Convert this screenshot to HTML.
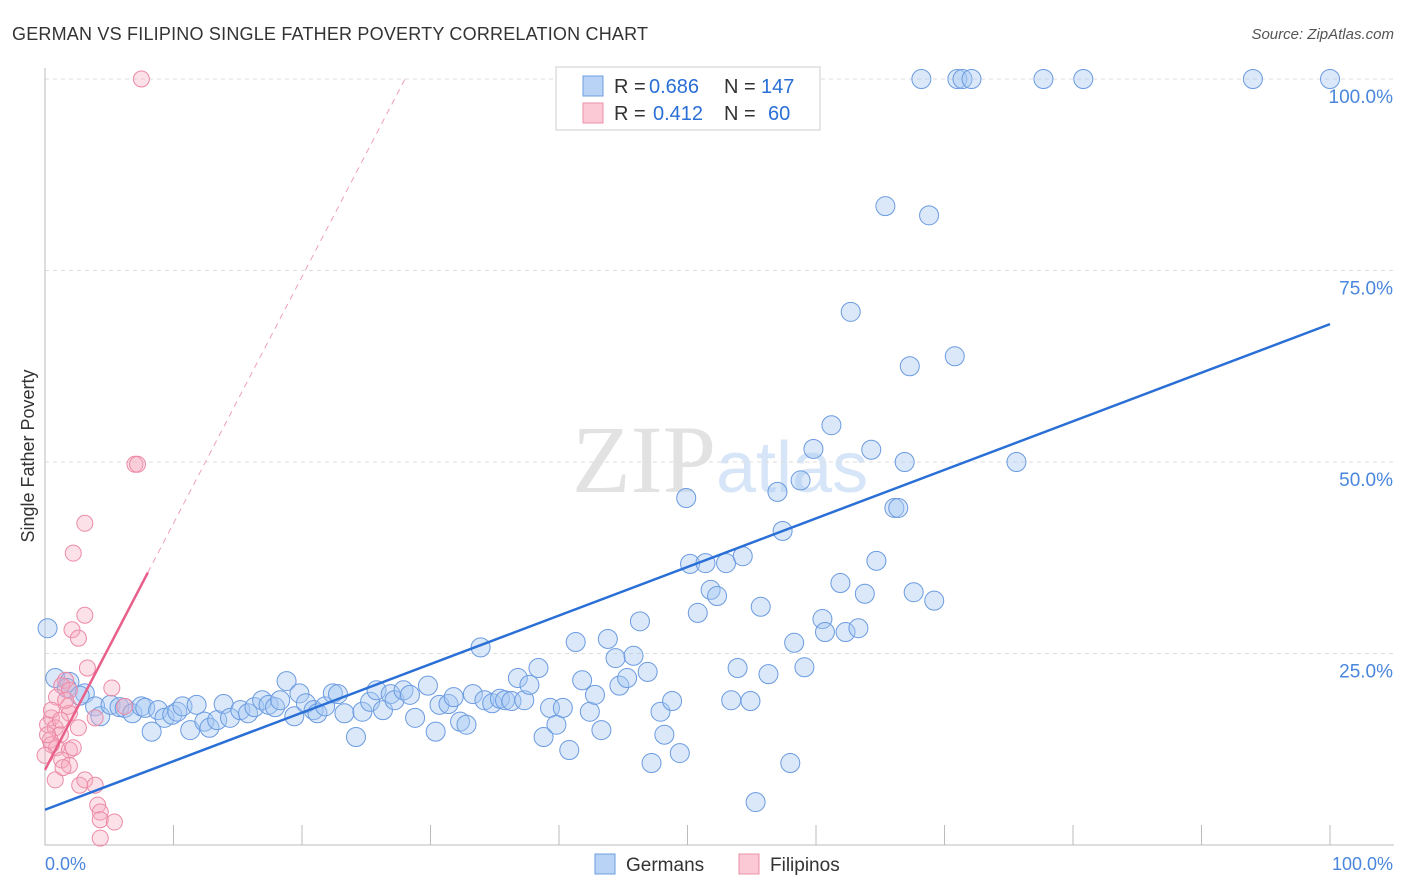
<!DOCTYPE html>
<html><head><meta charset="utf-8"><style>
body{margin:0;background:#fff;font-family:"Liberation Sans",sans-serif}
svg{display:block}
</style></head><body>
<svg id="c" width="1406" height="892">
<text x="12" y="40" font-size="18" fill="#333" textLength="636">GERMAN VS FILIPINO SINGLE FATHER POVERTY CORRELATION CHART</text>
<text x="1394" y="39" font-size="15" fill="#555" text-anchor="end" font-style="italic">Source: ZipAtlas.com</text>
<text x="34" y="456" font-size="18" fill="#333" transform="rotate(-90 34 456)" text-anchor="middle">Single Father Poverty</text>
<text x="716" y="492" font-size="96" fill="#e2e2e2" text-anchor="end" font-family="Liberation Serif">ZIP</text>
<text x="716" y="492" font-size="72" fill="#d6e5f7">atlas</text>
<g id="grid"></g><g id="pts"></g><g id="lines"></g>
<g>
<rect x="556" y="67" width="264" height="63" fill="#fff" stroke="#ccc"/>
<rect x="583" y="76" width="20" height="20" fill="#b8d3f5" stroke="#6e9fe0"/>
<rect x="583" y="103" width="20" height="20" fill="#fbc8d6" stroke="#ec90aa"/>
<text x="614" y="93" font-size="20" fill="#333">R =</text>
<text x="649" y="93" font-size="20" fill="#2a6fd6">0.686</text>
<text x="724" y="93" font-size="20" fill="#333">N =</text>
<text x="761" y="93" font-size="20" fill="#2a6fd6">147</text>
<text x="614" y="120" font-size="20" fill="#333">R =</text>
<text x="653" y="120" font-size="20" fill="#2a6fd6">0.412</text>
<text x="724" y="120" font-size="20" fill="#333">N =</text>
<text x="768" y="120" font-size="20" fill="#2a6fd6">60</text>
</g>
<g>
<rect x="595" y="854" width="20" height="20" fill="#b8d3f5" stroke="#6e9fe0"/>
<text x="626" y="871" font-size="19" fill="#333">Germans</text>
<rect x="739" y="854" width="20" height="20" fill="#fbc8d6" stroke="#ec90aa"/>
<text x="770" y="871" font-size="19" fill="#333">Filipinos</text>
</g>
</svg>
<script>
const germansX=[0.2,0.8,1.9,1.7,3.1,2.7,3.9,4.3,5.1,5.8,6.2,6.8,7.5,7.8,8.3,8.8,9.3,9.9,10.3,10.7,11.3,11.8,12.4,12.8,13.4,13.9,14.4,15.2,15.8,16.3,16.9,17.4,17.9,18.3,18.8,19.4,19.8,20.3,20.9,21.2,21.8,22.4,22.8,23.3,24.2,24.7,25.3,25.8,26.3,26.9,27.2,27.9,28.4,28.8,29.8,30.4,30.7,31.4,31.8,32.3,32.8,33.3,33.9,34.2,34.8,35.4,35.8,36.3,36.8,37.3,37.7,38.4,38.8,39.3,39.8,40.3,40.8,41.3,41.8,42.4,42.8,43.3,43.8,44.4,44.7,45.3,45.8,46.3,46.9,47.2,47.9,48.2,48.8,49.4,49.9,50.2,50.8,51.4,51.8,52.3,53.0,53.4,53.9,54.3,54.9,55.3,55.7,56.3,57.0,57.4,58.0,58.3,58.8,59.1,59.8,60.5,60.7,61.2,61.9,62.3,62.7,63.3,63.8,64.3,64.7,65.4,66.1,66.4,66.9,67.3,67.6,68.2,68.8,69.2,70.8,71.0,71.4,72.1,75.6,77.7,80.8,94.0,100];
const germansY=[28.3,21.8,21.3,20.5,19.8,19.5,18.1,16.8,18.3,18.0,17.9,17.2,18.1,17.9,14.8,17.6,16.6,17.0,17.4,18.1,15.0,18.3,16.1,15.3,16.3,18.4,16.6,17.6,17.2,18.0,18.9,18.3,18.0,18.9,21.4,16.8,19.8,18.5,17.6,17.2,18.1,19.8,19.7,17.2,14.1,17.4,18.7,20.2,17.6,19.7,18.9,20.2,19.6,16.6,20.8,14.8,18.3,18.4,19.3,16.1,15.7,19.7,25.8,18.9,18.5,19.1,18.9,18.8,21.8,18.9,20.9,23.1,14.1,17.9,15.7,17.9,12.4,26.5,21.5,17.4,19.6,15.0,26.9,24.4,20.8,21.8,24.7,29.2,22.6,10.7,17.4,14.4,18.8,12.0,45.3,36.7,30.3,36.8,33.3,32.5,36.8,18.9,23.1,37.7,18.8,5.6,31.1,22.3,46.1,41.0,10.7,26.4,47.6,23.2,51.7,29.5,27.8,54.8,34.2,27.8,69.6,28.3,32.8,51.6,37.1,83.4,44.0,44.0,50.0,62.5,33.0,100,82.2,31.9,63.8,100,100,100,50.0,100,100,100,100];
const filipinosX=[7.5,7.0,7.2,3.1,2.2,3.1,2.1,2.6,3.3,1.6,1.3,1.9,5.2,0.9,1.8,6.2,3.9,1.9,0.5,0.2,0.8,1.2,2.6,0.4,0.9,1.9,2.2,1.3,1.9,0.8,1.4,2.7,3.1,3.9,4.1,4.3,4.3,5.4,4.3,0.5,0.2,0.5,1.2,0.0,1.6];
const filipinosY=[100,49.7,49.7,42.0,38.1,30.0,28.1,27.0,23.1,21.5,20.8,20.2,20.5,19.3,18.1,18.1,16.6,17.2,16.6,15.7,15.3,14.4,15.3,13.7,12.7,12.4,12.7,11.1,10.4,8.5,10.1,7.8,8.5,7.8,5.2,4.3,3.3,3.0,0.9,13.1,14.4,17.6,16.3,11.7,18.9];
const germanTrend=[4.6,68.0];
const filipinoTrend=[9.8,3.22];
const yTicks=[25,50,75,100];
const yTickLabels=["25.0%","50.0%","75.0%","100.0%"];
const NS='http://www.w3.org/2000/svg';
const sx=v=>45+v*12.85, sy=v=>845-v*7.66;
function mk(tag,attrs,parent,txt){const e=document.createElementNS(NS,tag);for(const k in attrs)e.setAttribute(k,attrs[k]);if(txt!==undefined)e.textContent=txt;parent.appendChild(e);return e;}
const grid=document.getElementById('grid'),pts=document.getElementById('pts'),lines=document.getElementById('lines');
yTicks.forEach((t,i)=>{
 const l=mk('line',{x1:45,x2:1394,y1:sy(t),y2:sy(t),stroke:'#ddd','stroke-dasharray':'4 4'},grid);
 
 
 const tx=mk('text',{x:1393,y:sy(t)+24,'font-size':19,fill:'#4a86dd','text-anchor':'end'},grid,yTickLabels[i]);
 
 
});
const ax=mk('path',{d:'M45 68V845H1394',fill:'none',stroke:'#bbb'},grid);


for(let i=1;i<=10;i++){const tk=mk('line',{x1:sx(i*10),x2:sx(i*10),y1:825,y2:845,stroke:'#bbb'},grid);
 
 }
const x0=mk('text',{x:45,y:870,'font-size':18,fill:'#4a86dd'},grid,'0.0%');


const x1=mk('text',{x:1393,y:870,'font-size':18,fill:'#4a86dd','text-anchor':'end'},grid,'100.0%');


germansX.forEach((x,i)=>{const c=mk('circle',{cx:sx(x),cy:sy(germansY[i]),r:9.5,fill:'rgba(166,200,242,0.42)',stroke:'#6b9be0','stroke-width':1},pts);
 
 });
filipinosX.forEach((x,i)=>{const c=mk('circle',{cx:sx(x),cy:sy(filipinosY[i]),r:8,fill:'rgba(246,170,192,0.35)',stroke:'#ec8aa6','stroke-width':1},pts);
 
 });
const gl=mk('line',{x1:sx(0),y1:sy(germanTrend[0]),x2:sx(100),y2:sy(germanTrend[1]),stroke:'#2a6fd6','stroke-width':2.5},lines);


const xEnd=(100-filipinoTrend[0])/filipinoTrend[1];
const fd=mk('line',{x1:sx(8),y1:sy(filipinoTrend[0]+8*filipinoTrend[1]),x2:sx(xEnd),y2:sy(100),stroke:'#f0a0b8','stroke-width':1,'stroke-dasharray':'6 5'},lines);


const fl=mk('line',{x1:sx(0),y1:sy(filipinoTrend[0]),x2:sx(8),y2:sy(filipinoTrend[0]+8*filipinoTrend[1]),stroke:'#e8608a','stroke-width':2.5},lines);


</script>
</body></html>
